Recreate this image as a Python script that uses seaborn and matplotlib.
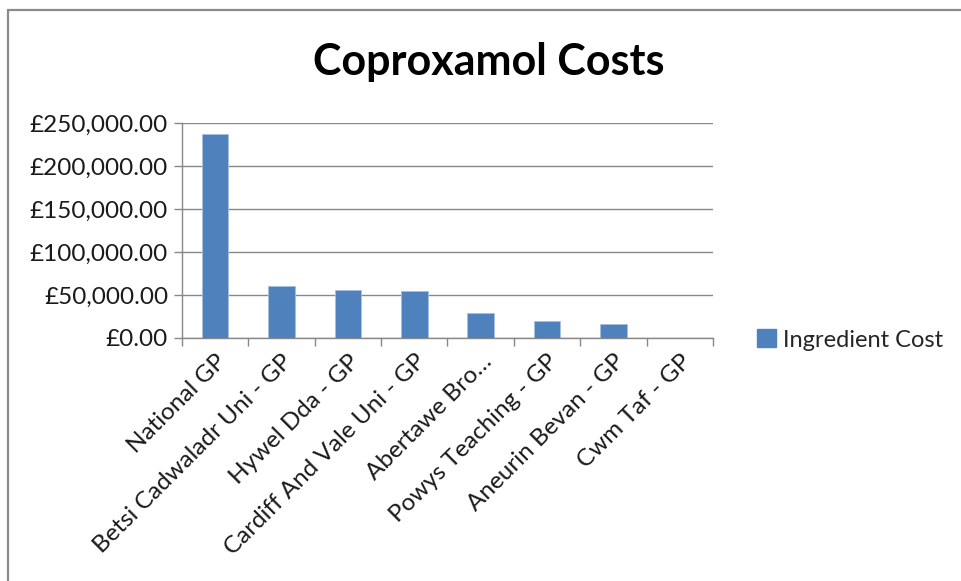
import matplotlib
matplotlib.use('Agg')
import matplotlib.pyplot as plt
from matplotlib.patches import Patch
from matplotlib.lines import Line2D
from matplotlib.ticker import FuncFormatter, FixedLocator
import seaborn as sns
import pandas as pd

# data
regions = ['National GP', 'Betsi Cadwaladr Uni - GP', 'Hywel Dda - GP',
           'Cardiff And Vale Uni - GP', 'Abertawe Bro…', 'Powys Teaching - GP',
           'Aneurin Bevan - GP', 'Cwm Taf - GP']
ingredient_cost = [237000, 60500, 55500, 54300, 29100, 20100, 15900, 0]
y_ticks = [0, 50000, 100000, 150000, 200000, 250000]

df = pd.DataFrame({'region': regions, 'cost': ingredient_cost})

sns.set_style('white')
plt.rcParams['font.family'] = ['Lato', 'DejaVu Sans']

bar_color = '#4F81BD'
grid_color = '#888888'

fig = plt.figure(figsize=(9.62, 5.81), dpi=100)
ax = fig.add_axes([182/962, 1 - 338/581, (713-182)/962, (338-123)/581])

sns.barplot(data=df, x='region', y='cost', color=bar_color, saturation=1, width=0.4,
            edgecolor='#A7C0DE', linewidth=0.6, ax=ax, zorder=3)

ax.set_xlim(-0.5, len(regions) - 0.5)
ax.set_ylim(0, 250000)
ax.yaxis.set_major_locator(FixedLocator(y_ticks))
ax.yaxis.set_major_formatter(FuncFormatter(lambda v, p: f'£{v:,.2f}'))
ax.yaxis.grid(True, color=grid_color, linewidth=1.0, zorder=0)
ax.set_axisbelow(True)

# category labels at centres, tick marks at boundaries (excel style)
ax.set_xticks(range(len(regions)))
ax.set_xticklabels(regions, rotation=45, ha='right', rotation_mode='anchor')
ax.set_xticks([i - 0.5 for i in range(len(regions) + 1)], minor=True)
ax.tick_params(axis='x', which='major', length=0, pad=9, labelsize=17.5, colors='#1a1a1a')
ax.tick_params(axis='x', which='minor', length=6, width=1, color=grid_color, direction='out', bottom=True)
ax.tick_params(axis='y', which='major', length=6, width=1, color=grid_color, direction='out',
               left=True, labelsize=17.5, pad=4, labelcolor='#1a1a1a')

ax.set_xlabel('')
ax.set_ylabel('')
for side in ['top', 'right']:
    ax.spines[side].set_visible(False)
for side in ['left', 'bottom']:
    ax.spines[side].set_color(grid_color)
    ax.spines[side].set_linewidth(1.0)

fig.text(489/962, 1 - 62/581, 'Coproxamol Costs', ha='center', va='center',
         fontsize=31, fontweight='bold', color='black')

handle = Patch(facecolor=bar_color, edgecolor=bar_color)
fig.legend(handles=[handle], labels=['Ingredient Cost'], loc='center left',
           bbox_to_anchor=(745/962, 1 - 340/581), frameon=False, fontsize=17,
           handlelength=0.8, handleheight=0.8, handletextpad=0.3, borderpad=0)

# outer frame of the chart area
fig.add_artist(Line2D([8/962, 1], [1 - 10/581, 1 - 10/581], color='#8a8a8a', linewidth=1.6))
fig.add_artist(Line2D([8/962, 8/962], [0, 1 - 10/581], color='#8a8a8a', linewidth=1.6))

fig.savefig('out.png', dpi=100, facecolor='white')
